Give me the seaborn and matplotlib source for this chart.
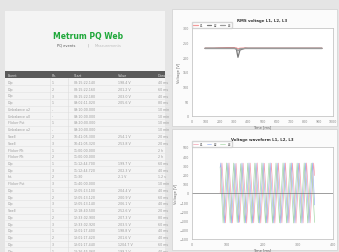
import numpy as np
import pandas as pd
import seaborn as sns
import matplotlib.pyplot as plt
from matplotlib.patches import Rectangle

# ---- table data (event list) ----
ev_type = ["Dip", "Dip", "Dip", "Dip", "Unbalance u2", "Unbalance u0",
           "Flicker Pst", "Unbalance u2", "Swell", "Swell", "Flicker Plt",
           "Flicker Plt", "Dip", "Dip", "Int.", "Flicker Pst", "Dip", "Dip",
           "Dip", "Swell", "Dip", "Dip", "Dip", "Dip", "Dip", "Dip"]
ev_phase = ["1", "2", "3", "1", "-", "-", "1", "-", "2", "3", "1", "2",
            "1", "3", "2", "3", "1", "2", "3", "1", "2", "3", "1", "2", "3", "1"]
ev_start = ["08:15:22.140", "08:15:22.160", "08:15:22.180", "09:02:11.020",
            "09:10:00.000", "09:10:00.000", "09:20:00.000", "09:20:00.000",
            "10:41:05.300", "10:41:05.320", "11:00:00.000", "11:00:00.000",
            "11:12:44.700", "11:12:44.720", "11:30", "11:40:00.000",
            "12:05:13.100", "12:05:13.120", "12:05:13.140", "12:18:40.500",
            "12:33:02.900", "12:33:02.920", "13:01:17.400", "13:01:17.420",
            "13:01:17.440", "13:26:55.060"]
ev_value = ["198.4 V", "201.2 V", "203.0 V", "205.6 V", "", "", "", "",
            "254.1 V", "253.8 V", "", "", "199.7 V", "202.3 V", "2.1 V", "",
            "204.4 V", "200.9 V", "206.1 V", "252.6 V", "207.3 V", "203.5 V",
            "198.8 V", "201.6 V", "1204.7 V", "199.2 V"]
ev_dur = ["40 ms", "60 ms", "40 ms", "80 ms", "10 min", "10 min", "10 min",
          "10 min", "20 ms", "20 ms", "2 h", "2 h", "60 ms", "40 ms", "1.2 s",
          "10 min", "40 ms", "60 ms", "40 ms", "20 ms", "80 ms", "60 ms",
          "40 ms", "40 ms", "60 ms", "40 ms"]
headers = ["Event", "Ph.", "Start", "Value", "Duration"]

# ---- RMS chart data ----
rms_t = [92, 150, 184, 250, 300, 315, 326, 340, 376, 400, 500, 600, 700, 800, 922]
rms_l1 = [231, 231, 232, 233, 233, 232, 229, 231, 232, 231, 231, 231, 231, 231, 231]
rms_l2 = [231, 231, 231, 231, 231, 228, 200, 225, 231, 231, 231, 231, 231, 231, 231]
rms_l3 = [230, 230, 230, 230, 230, 229, 222, 229, 230, 230, 230, 230, 230, 230, 230]

# ---- waveform data (half-cycle peaks, ms / V) ----
wf_t1 = [80, 85, 95, 105, 115, 125, 135, 145, 155, 165, 175, 185, 195, 205, 215,
         225, 235, 245, 255, 265, 275, 285, 295, 305, 315, 325, 335, 345, 348]
wf_l1 = [0, 325, -324, 326, -325, 322, -318, 324, -326, 325, -324, 326, -325, 323, -325,
         324, -326, 325, -323, 326, -324, 325, -326, 324, -325, 326, -324, 325, 190]
wf_t2 = [80, 81.7, 91.7, 101.7, 111.7, 121.7, 131.7, 141.7, 151.7, 161.7, 171.7,
         181.7, 191.7, 201.7, 211.7, 221.7, 231.7, 241.7, 251.7, 261.7, 271.7,
         281.7, 291.7, 301.7, 311.7, 321.7, 331.7, 341.7, 348]
wf_l2 = [280, 326, -325, 324, -326, 320, -322, 325, -324, 326, -325,
         324, -326, 325, -324, 326, -325, 324, -326, 325, -324,
         326, -325, 324, -326, 325, -324, 326, -130]
wf_t3 = [80, 88.3, 98.3, 108.3, 118.3, 128.3, 138.3, 148.3, 158.3, 168.3, 178.3,
         188.3, 198.3, 208.3, 218.3, 228.3, 238.3, 248.3, 258.3, 268.3, 278.3,
         288.3, 298.3, 308.3, 318.3, 328.3, 338.3, 348]
wf_l3 = [280, -325, 326, -324, 325, -321, 319, -325, 324, -326, 325,
         -324, 326, -325, 324, -326, 325, -324, 326, -325, 324,
         -326, 325, -324, 326, -325, 324, -320]

W, H = 339, 253
sns.set_theme(style="white")
plt.rcParams['font.family'] = ['DejaVu Sans']
fig = plt.figure(figsize=(W / 100, H / 100), dpi=100)
fig.patch.set_facecolor("#e5e5e5")

page = fig.add_axes([0, 0, 1, 1])
page.set_xlim(0, W)
page.set_ylim(H, 0)
page.axis("off")

# left panel
page.add_patch(Rectangle((5, 12), 160, 241, fc="#f4f4f4", ec="none"))
page.text(88, 36, "Metrum PQ Web", color="#1fa83a", fontsize=5.5,
          fontweight="bold", ha="center", va="center")
page.text(66, 45.5, "PQ events", color="#555555", fontsize=2.6, ha="center", va="center")
page.text(88, 45.5, "|", color="#999999", fontsize=2.6, ha="center", va="center")
page.text(108, 45.5, "Measurements", color="#bbbbbb", fontsize=2.6, ha="center", va="center")

page.add_patch(Rectangle((5, 72), 160, 7, fc="#5a5a5a", ec="none"))
col_x = [8, 52, 74, 118, 158]
for x, h in zip(col_x, headers):
    page.text(x, 75.5, h, color="#dddddd", fontsize=2.4, va="center")
cols = [ev_type, ev_phase, ev_start, ev_value, ev_dur]
for i in range(len(ev_type)):
    y = 83 + i * 6.75
    page.plot([5, 165], [y + 3.3, y + 3.3], color="#e2e2e2", lw=0.4)
    for x, col in zip(col_x, cols):
        page.text(x, y, col[i], color="#999999", fontsize=2.3, va="center")
for x in [50, 68]:
    page.plot([x, x], [79, 253], color="#dcdcdc", lw=0.4)

# right panels
page.add_patch(Rectangle((172, 10), 165, 117, fc="#fbfbfb", ec="#d0d0d0", lw=0.5))
page.add_patch(Rectangle((172, 130), 165, 121, fc="#fbfbfb", ec="#d0d0d0", lw=0.5))


def style_axes(ax, title, xlab):
    ax.set_facecolor("white")
    for s in ax.spines.values():
        s.set_color("#bbbbbb")
        s.set_linewidth(0.5)
    ax.tick_params(labelsize=2.3, colors="#888888", length=1.2, width=0.3, pad=1)
    ax.set_title(title, fontsize=2.8, color="#333333", pad=5, fontweight="bold")
    ax.set_xlabel(xlab, fontsize=2.6, color="#666666", labelpad=1)
    ax.set_ylabel("Voltage [V]", fontsize=2.6, color="#666666", labelpad=1)
    ax.legend(loc="lower left", bbox_to_anchor=(0, 1.0), ncol=3, fontsize=2.2,
              frameon=True, borderpad=0.3, handlelength=1.5, columnspacing=1,
              edgecolor="#cccccc", borderaxespad=0.1)


rms = pd.DataFrame({"t": rms_t * 3, "v": rms_l1 + rms_l2 + rms_l3,
                    "phase": ["L1"] * len(rms_t) + ["L2"] * len(rms_t) + ["L3"] * len(rms_t)})
ax1 = fig.add_axes([192 / W, 1 - 117 / H, 141 / W, 88 / H])
sns.lineplot(data=rms, x="t", y="v", hue="phase", ax=ax1, lw=0.9,
             palette=["#f29a9a", "#7a7a7a", "#9a9a9a"], estimator=None)
ax1.set_xlim(0, 1000)
ax1.set_ylim(0, 300)
ax1.set_xticks(range(0, 1001, 100))
ax1.set_yticks(range(0, 301, 50))
style_axes(ax1, "RMS voltage L1, L2, L3", "Time [ms]")

wf = pd.DataFrame({"t": wf_t1 + wf_t2 + wf_t3, "v": wf_l1 + wf_l2 + wf_l3,
                   "phase": ["L1"] * len(wf_t1) + ["L2"] * len(wf_t2) + ["L3"] * len(wf_t3)})
ax2 = fig.add_axes([192 / W, 1 - 240 / H, 141 / W, 92 / H])
sns.lineplot(data=wf, x="t", y="v", hue="phase", ax=ax2, lw=0.5, sort=False,
             palette=["#f4a0b0", "#9fb4ef", "#a8d8a8"], estimator=None)
ax2.axhline(0, color="#777777", lw=0.5)
ax2.set_xlim(0, 400)
ax2.set_ylim(-500, 500)
ax2.set_xticks(range(0, 401, 100))
ax2.set_yticks(range(-500, 501, 100))
style_axes(ax2, "Voltage waveform L1, L2, L3", "Time [ms]")

fig.savefig("out.png", dpi=100, facecolor=fig.get_facecolor())
